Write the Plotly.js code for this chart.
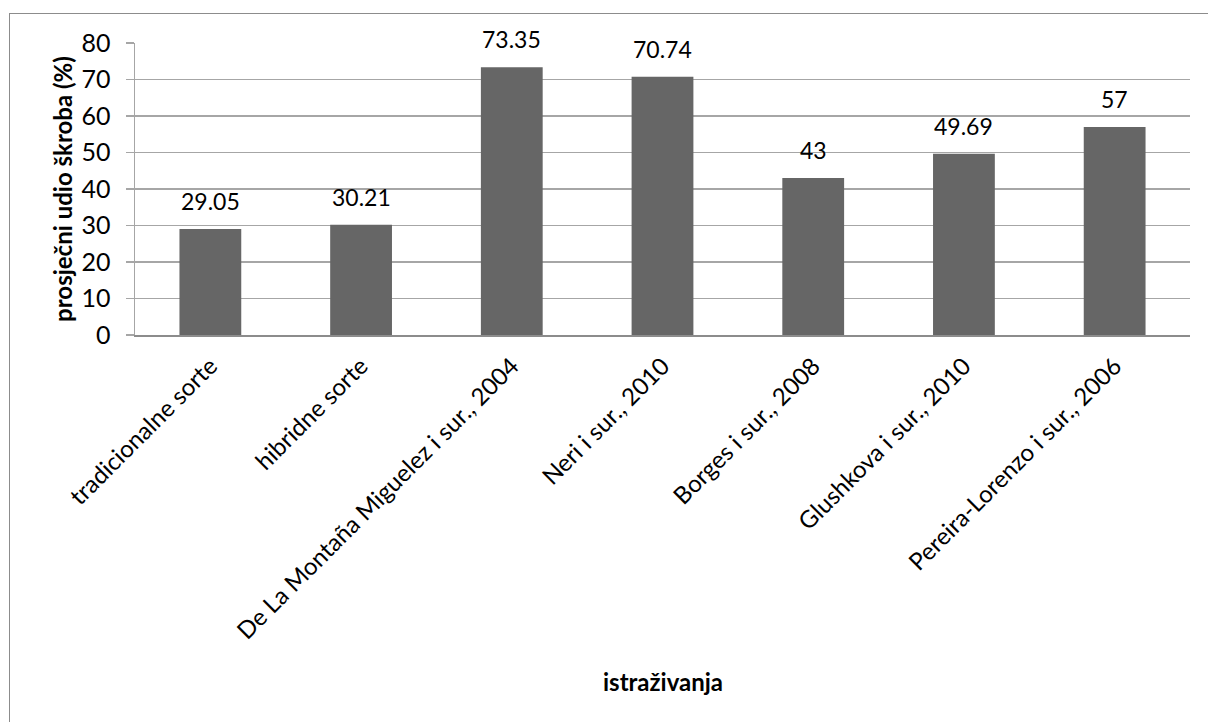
<!DOCTYPE html>
<html>
<head>
<meta charset="utf-8">
<script src="https://cdn.plot.ly/plotly-3.0.1.min.js"></script>
<style>
html,body{margin:0;padding:0;background:#fff;}
#wrap{position:relative;width:1208px;height:722px;overflow:hidden;}
#chart{position:absolute;left:0;top:0;width:1208px;height:722px;}
#frame{position:absolute;left:9px;top:13px;width:1220px;height:740px;border:1.5px solid #8c8c8c;pointer-events:none;box-sizing:border-box;}
</style>
</head>
<body>
<div id="wrap"><div id="chart"></div><div id="frame"></div></div>
<script>
const categories = [
  "tradicionalne sorte",
  "hibridne sorte",
  "De La Montaña Miguelez i sur., 2004",
  "Neri i sur., 2010",
  "Borges i sur., 2008",
  "Glushkova i sur., 2010",
  "Pereira-Lorenzo i sur., 2006"
];
const values = [29.05, 30.21, 73.35, 70.74, 43, 49.69, 57];
const valueLabels = ["29.05", "30.21", "73.35", "70.74", "43", "49.69", "57"];
const yTitle = "prosječni udio škroba (%)";
const xTitle = "istraživanja";

const FONT = "Lato, 'Open Sans', sans-serif";

const trace = {
  type: "bar",
  x: categories,
  y: values,
  marker: {color: "#666666", line: {width: 0}},
  hoverinfo: "x+y"
};

const annotations = categories.map((c, i) => ({
  x: c, y: values[i], xref: "x", yref: "y",
  text: valueLabels[i], showarrow: false,
  yanchor: "bottom", yshift: 12,
  font: {family: FONT, size: 23, color: "#000"}
}));
annotations.push({
  x: 0.5, y: -1.188, xref: "paper", yref: "paper",
  text: "<b>" + xTitle + "</b>", showarrow: false,
  xanchor: "center", yanchor: "middle",
  font: {family: FONT, size: 24, color: "#000"}
});
annotations.push({
  x: -0.0693, y: 0.5, xref: "paper", yref: "paper",
  text: "<b>" + yTitle + "</b>", showarrow: false, textangle: -90,
  xanchor: "center", yanchor: "middle",
  font: {family: FONT, size: 24, color: "#000"}
});

const layout = {
  width: 1208, height: 722,
  margin: {l: 135, r: 18, t: 43, b: 387},
  paper_bgcolor: "rgba(0,0,0,0)",
  plot_bgcolor: "#fff",
  showlegend: false,
  bargap: 0.59,
  xaxis: {
    type: "category",
    tickangle: -45,
    tickfont: {family: FONT, size: 24, color: "#000"},
    ticklabelstandoff: 6,
    showline: true, linecolor: "#8c8c8c", linewidth: 1.5,
    ticks: "", showgrid: false,
    automargin: false
  },
  yaxis: {
    range: [0, 80], dtick: 10, tick0: 0,
    showgrid: true, gridcolor: "#a6a6a6", gridwidth: 1.5,
    zeroline: false,
    showline: true, linecolor: "#a6a6a6", linewidth: 1.5,
    ticks: "outside", ticklen: 8, tickcolor: "#a6a6a6", tickwidth: 1.5,
    ticklabelstandoff: 10,
    tickfont: {family: FONT, size: 25, color: "#000"},
    automargin: false
  },
  annotations: annotations
};

Plotly.newPlot("chart", [trace], layout, {displayModeBar: false, staticPlot: true});
</script>
</body>
</html>
